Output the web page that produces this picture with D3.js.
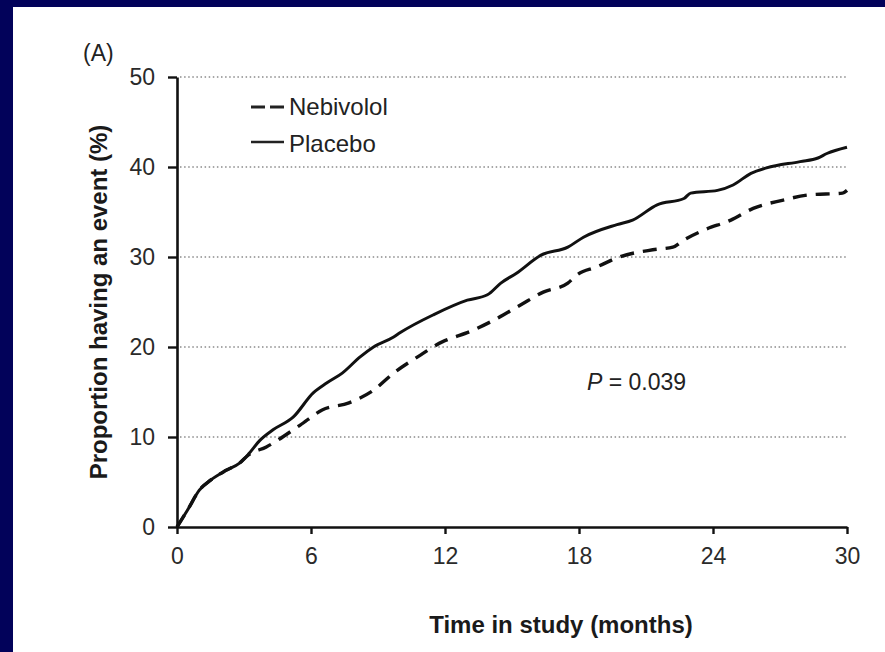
<!DOCTYPE html>
<html>
<head>
<meta charset="utf-8">
<script src="https://cdn.jsdelivr.net/npm/d3@7"></script>
<style>
  html, body { margin: 0; padding: 0; background: #02025a; }
  svg { display: block; }
  text { font-family: "Liberation Sans", Arial, Helvetica, sans-serif; }
</style>
</head>
<body>
<svg id="chart" width="885" height="652"></svg>
<script>
// ---- data ----
const placeboMonths = [0, 0.5, 1.0, 1.5, 2.2, 2.8, 3.2, 3.7, 4.3, 5.2, 6.1, 6.7, 7.4, 8.2, 8.8, 9.7, 10.0, 11.5, 13.0, 13.9, 14.5, 15.2, 16.3, 17.5, 18.2, 19.7, 20.4, 21.5, 22.7, 23.0, 24.2, 24.9, 25.7, 26.4, 27.9, 28.7, 29.1, 30];
const placeboValues = [0, 2.0, 4.1, 5.2, 6.3, 7.1, 8.1, 9.6, 10.8, 12.2, 14.9, 16.0, 17.1, 18.9, 20.0, 21.1, 21.6, 23.6, 25.2, 25.8, 27.1, 28.2, 30.2, 31.1, 32.2, 33.6, 34.1, 35.8, 36.5, 37.1, 37.4, 38.0, 39.3, 39.9, 40.6, 41.0, 41.5, 42.2];
const nebivololMonths = [0, 0.5, 1.0, 1.5, 2.2, 2.8, 3.2, 4.0, 5.5, 6.5, 7.7, 8.8, 9.7, 10.9, 11.9, 12.2, 13.1, 14.2, 15.4, 16.4, 17.5, 17.9, 18.8, 19.8, 21.3, 22.2, 22.7, 23.6, 24.8, 25.8, 27.1, 28.3, 29.8, 30];
const nebivololValues = [0, 2.0, 4.1, 5.2, 6.3, 7.1, 8.0, 8.9, 11.3, 13.0, 13.8, 15.2, 17.1, 19.1, 20.6, 20.9, 21.7, 23.0, 24.7, 26.1, 27.1, 28.0, 28.9, 30.0, 30.8, 31.1, 31.9, 33.0, 34.1, 35.4, 36.3, 36.9, 37.1, 37.4];
const xTicks = [0, 6, 12, 18, 24, 30];
const yTicks = [0, 10, 20, 30, 40, 50];
const gridValues = [10, 20, 30, 40, 50];
const seriesNames = ["Nebivolol", "Placebo"];
const panelLabel = "(A)";
const xTitle = "Time in study (months)";
const yTitle = "Proportion having an event (%)";
const pValueText = "0.039";

// ---- layout ----
const svg = d3.select("#chart");
svg.append("rect").attr("x", 13).attr("y", 7).attr("width", 872).attr("height", 645).attr("fill", "#ffffff");

const x = d3.scaleLinear().domain([0, 30]).range([177, 847]);
const y = d3.scaleLinear().domain([0, 50]).range([527, 77]);

// gridlines
svg.append("g").selectAll("line").data(gridValues).join("line")
  .attr("x1", x(0) + 3).attr("x2", x(30))
  .attr("y1", d => y(d)).attr("y2", d => y(d))
  .attr("stroke", "#8a8a8a").attr("stroke-width", 1.3)
  .attr("stroke-dasharray", "1.5,2.6");

// axes
const xAxis = svg.append("g").attr("transform", `translate(0,${y(0)})`)
  .call(d3.axisBottom(x).tickValues(xTicks).tickSize(7).tickPadding(14).tickSizeOuter(0));
const yAxis = svg.append("g").attr("transform", `translate(${x(0)},0)`)
  .call(d3.axisLeft(y).tickValues(yTicks).tickSize(9).tickPadding(13).tickSizeOuter(0));
[xAxis, yAxis].forEach(g => {
  g.select(".domain").attr("stroke", "#111").attr("stroke-width", 2.6);
  g.selectAll(".tick line").attr("stroke", "#111").attr("stroke-width", 2.4);
  g.selectAll(".tick text").attr("fill", "#2a2a2a").style("font-size", "23px")
    .style("font-family", "'Liberation Sans', Arial, sans-serif");
});
xAxis.selectAll(".tick text").attr("dy", "0.71em");

// lines
const line = d3.line().x(d => x(d[0])).y(d => y(d[1])).curve(d3.curveMonotoneX);
const placebo = placeboMonths.map((m, i) => [m, placeboValues[i]]);
const nebivolol = nebivololMonths.map((m, i) => [m, nebivololValues[i]]);

svg.append("path").datum(placebo).attr("d", line)
  .attr("fill", "none").attr("stroke", "#111").attr("stroke-width", 3)
  .attr("stroke-linejoin", "round");
svg.append("path").datum(nebivolol).attr("d", line)
  .attr("fill", "none").attr("stroke", "#111").attr("stroke-width", 3.4)
  .attr("stroke-dasharray", "14,9");

// legend
const leg = svg.append("g");
leg.append("line").attr("x1", 251).attr("x2", 284).attr("y1", 107).attr("y2", 107)
  .attr("stroke", "#222").attr("stroke-width", 3).attr("stroke-dasharray", "14,5");
leg.append("text").attr("x", 289).attr("y", 115).text(seriesNames[0])
  .style("font-size", "24px").attr("fill", "#222");
leg.append("line").attr("x1", 251).attr("x2", 284).attr("y1", 142).attr("y2", 142)
  .attr("stroke", "#222").attr("stroke-width", 2.4);
leg.append("text").attr("x", 289).attr("y", 152).text(seriesNames[1])
  .style("font-size", "24px").attr("fill", "#222");

// panel label
svg.append("text").attr("x", 83).attr("y", 61).text(panelLabel)
  .style("font-size", "23px").attr("fill", "#222");

// P value
const pt = svg.append("text").attr("x", 587).attr("y", 390)
  .style("font-size", "23px").attr("fill", "#222");
pt.append("tspan").style("font-style", "italic").text("P");
pt.append("tspan").text(" = " + pValueText);

// axis titles
svg.append("text").attr("x", 561).attr("y", 633).attr("text-anchor", "middle")
  .style("font-size", "24px").style("font-weight", "bold").attr("fill", "#1a1a1a")
  .text(xTitle);
svg.append("text").attr("transform", "translate(107,302) rotate(-90)")
  .attr("text-anchor", "middle")
  .style("font-size", "24px").style("font-weight", "bold").attr("fill", "#1a1a1a")
  .text(yTitle);
</script>
</body>
</html>
